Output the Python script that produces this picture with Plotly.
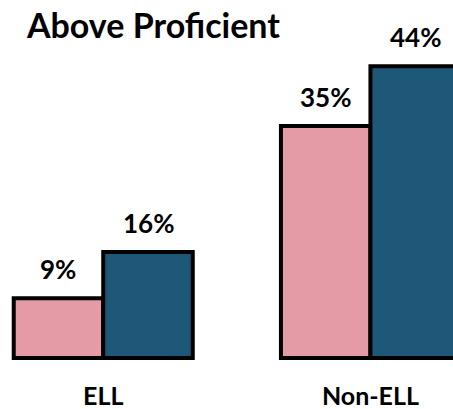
import plotly.graph_objects as go

categories = ["ELL", "Non-ELL"]
series_names = ["Series 1", "Series 2"]
series_a = [9, 35]
series_b = [16, 44]
colors = ["#E59BA5", "#1E5879"]

FONT = "Lato"
BARGAP = 0.33
bar_w = (1 - BARGAP) / 2

fig = go.Figure()
for name, vals, col in zip(series_names, [series_a, series_b], colors):
    fig.add_trace(go.Bar(
        x=categories, y=vals, name=name,
        marker=dict(color=col, line=dict(color="black", width=4)),
        showlegend=False, hoverinfo="skip",
    ))

annotations = []
for si, vals in enumerate([series_a, series_b]):
    off = (si - 0.5) * bar_w
    for ci, v in enumerate(vals):
        annotations.append(dict(
            x=ci + off, y=v, xref="x", yref="y",
            text=f"<b>{v}%</b>", showarrow=False,
            yanchor="bottom", yshift=11,
            font=dict(family=FONT, size=26, color="black"),
        ))

fig.update_layout(
    width=453, height=409,
    margin=dict(l=0, r=0, t=0, b=40),
    paper_bgcolor="white", plot_bgcolor="white",
    bargap=BARGAP, bargroupgap=0, barmode="group",
    title=dict(text="<b>Above Proficient</b>", xref="container", yref="container",
               x=27/453, xanchor="left", y=1-26/409, yanchor="middle",
               font=dict(family=FONT, size=34, color="black")),
    xaxis=dict(range=[-0.3864, 1.309], showgrid=False, showline=False, zeroline=False,
               ticks="", tickfont=dict(family=FONT, size=25, color="black"),
               ticklabelstandoff=10,
               tickmode="array", tickvals=categories,
               ticktext=[f"<b>{c}</b>" for c in categories]),
    yaxis=dict(range=[-1.66, 54.0], visible=False, showgrid=False, zeroline=False),
    annotations=annotations,
)

fig.write_html("out.html", config={"displayModeBar": False},
               post_script="document.body.style.margin='0';")
